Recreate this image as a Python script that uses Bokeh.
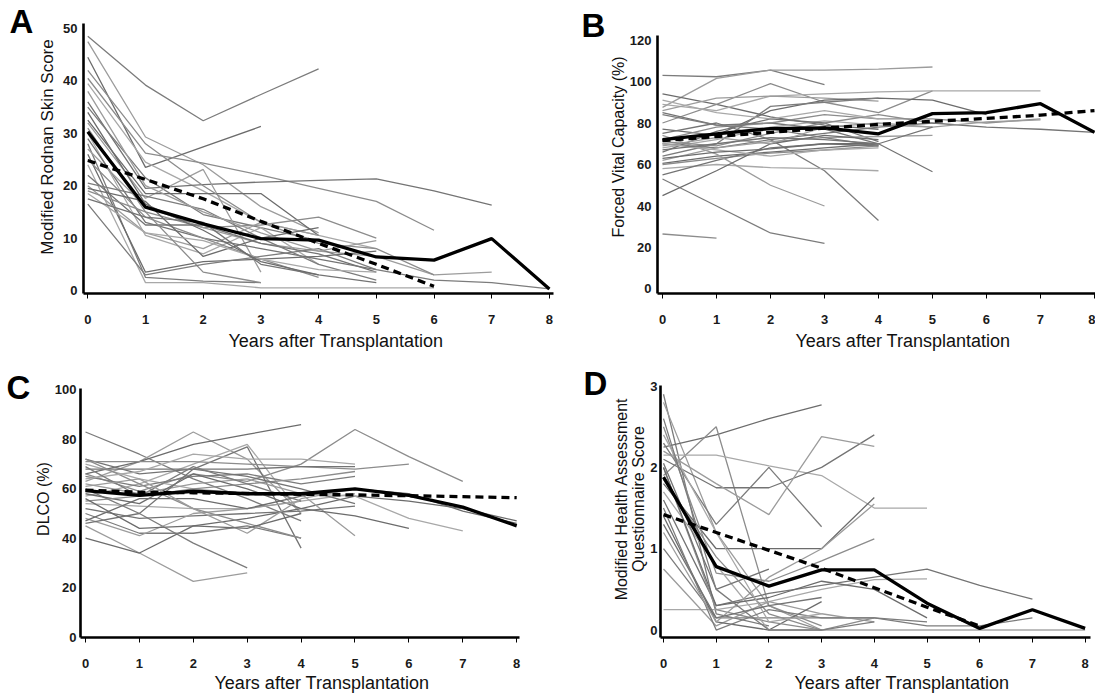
from bokeh.plotting import figure
from bokeh.layouts import column, row
from bokeh.models import FixedTicker, Range1d, Title
from bokeh.core.properties import value
from bokeh.embed import file_html
from bokeh.resources import INLINE

X_TICKS = [0, 1, 2, 3, 4, 5, 6, 7, 8]
X_TITLE = "Years after Transplantation"

# ---------------- Panel A : Modified Rodnan Skin Score ----------------
A_TICKS = [0, 10, 20, 30, 40, 50]
A_TITLE = "Modified Rodnan Skin Score"
A_MEAN = [30.3, 15.9, 12.7, 9.9, 9.6, 6.4, 5.8, 9.9, 0.3]
A_TREND = [24.8, 21.2, 17.5, 13.2, 9.0, 5.0, 0.8]
A_LINES = [
    [48.5, 39.2, 32.4, 37.4, 42.3],
    [47.5, 29.3, 24.0, 16.0, 11.0],
    [44.5, 23.5, 27.4, 31.3],
    [40.5, 26.2, 24.3, 22.0, 19.5, 17.0, 11.5],
    [39.5, 24.5, 19.0, 13.0, 10.5, 8.0],
    [36.0, 19.5, 20.2, 20.7, 21.0, 21.3, 19.0, 16.3],
    [35.0, 21.5, 14.5, 12.0, 9.5],
    [32.0, 17.6, 23.1, 3.5],
    [32.5, 18.5, 18.5, 18.5, 10.5],
    [31.0, 15.0, 12.0, 12.5, 14.0, 10.0],
    [30.0, 10.5, 7.0, 12.0, 5.0],
    [29.0, 13.0, 10.0, 8.0, 6.0, 4.0],
    [28.0, 2.5, 1.8, 1.5],
    [27.0, 16.0, 12.0, 9.0, 7.5, 6.5, 3.0, 3.5],
    [26.0, 3.5, 5.5, 6.0, 6.5, 7.5],
    [25.0, 14.0, 10.0, 6.0, 2.5],
    [24.0, 1.5, 1.5, 0.5, 0.5, 0.5, 0.5],
    [22.0, 12.5, 12.5, 9.0, 7.0, 3.5],
    [20.5, 18.0, 15.5, 10.0, 5.0, 2.0],
    [20.0, 11.0, 8.0, 13.0, 10.5],
    [19.5, 17.0, 6.5, 10.0, 12.0],
    [19.0, 15.0, 3.5, 1.5],
    [18.5, 11.0, 9.5, 6.0, 4.0, 3.5],
    [17.5, 14.0, 13.0, 5.0, 3.0, 1.5],
    [16.5, 3.0, 5.0, 6.5, 8.0, 4.0, 2.0, 1.5, 0.3],
    [38.0, 20.0, 15.0, 11.0, 7.5, 9.5],
    [34.0, 16.5, 11.5, 5.5, 3.0],
    [42.0, 28.0, 20.0, 13.0, 9.0, 8.0, 3.0],
]

# ---------------- Panel B : Forced Vital Capacity ----------------
B_TICKS = [0, 20, 40, 60, 80, 100, 120]
B_TITLE = "Forced Vital Capacity (%)"
B_MEAN = [72.0, 74.8, 77.3, 77.6, 74.8, 84.5, 85.0, 89.3, 75.5]
B_TREND = [71.5, 73.5, 75.5, 77.5, 79.3, 80.8, 82.2, 83.8, 86.0]
B_LINES = [
    [103.0, 102.3, 105.5, 98.5],
    [87.5, 101.5, 105.5, 105.5, 106.0, 107.0],
    [94.0, 89.0, 83.0, 79.0, 77.0],
    [80.0, 89.0, 99.0, 90.0, 85.0, 95.5],
    [89.0, 86.0, 93.0, 94.0, 95.0, 95.5, 95.5, 95.5],
    [85.0, 79.0, 80.0, 77.0, 70.0, 56.5],
    [70.0, 68.0, 72.0, 57.0, 33.0],
    [86.0, 92.0, 93.0, 92.0, 90.5],
    [77.0, 74.0, 86.0, 91.0, 92.0, 91.0, 84.0],
    [72.0, 78.0, 80.0, 84.0, 82.0, 82.0, 80.0, 82.0],
    [68.0, 72.0, 78.0, 81.0, 79.0, 78.0],
    [66.0, 76.0, 82.0, 80.0, 71.0],
    [64.0, 70.0, 88.0, 90.0, 92.0],
    [62.0, 68.0, 71.0, 73.0, 73.5, 74.0],
    [60.5, 64.0, 66.0, 68.0, 70.0],
    [60.0, 63.0, 65.5, 67.0, 69.0],
    [58.0, 60.0, 58.5, 58.0, 57.0],
    [55.0, 62.0, 68.0, 70.0, 69.0],
    [53.0, 40.0, 27.0, 22.0],
    [74.0, 65.0, 50.0, 40.0],
    [45.0, 57.0, 70.0, 74.0, 72.0],
    [26.5, 24.5],
    [70.0, 67.0, 64.0, 67.0, 68.0],
    [75.0, 80.0, 72.0, 75.0, 78.0, 80.0, 78.0, 77.0, 75.5],
    [84.0, 79.0, 77.0, 73.0, 69.0],
    [69.0, 73.0, 70.0, 78.0, 80.0, 78.0, 80.5, 81.5],
    [63.0, 66.0, 67.5, 70.0, 70.0],
    [71.0, 69.0, 75.0, 80.0, 84.0, 80.0],
    [91.0, 85.0, 82.0, 86.0, 82.0],
    [67.0, 70.0, 73.0, 72.0, 70.0, 78.0],
]

# ---------------- Panel C : DLCO ----------------
C_TICKS = [0, 20, 40, 60, 80, 100]
C_TITLE = "DLCO (%)"
C_MEAN = [59.3, 57.3, 59.0, 58.0, 58.0, 60.0, 57.3, 52.6, 45.0]
C_TREND = [59.5, 58.6, 58.4, 58.1, 57.8, 57.5, 57.2, 56.8, 56.4]
C_LINES = [
    [83, 74, 64, 56, 47],
    [63, 71, 83, 72, 50],
    [66, 71, 78, 82, 86],
    [66, 59, 66, 63, 70, 84, 73, 63],
    [57, 62, 70, 78, 50],
    [72, 66, 68, 77, 36],
    [60, 50, 38, 28],
    [45, 34, 22.5, 26],
    [40, 34, 45, 48, 52, 57, 55, 52, 47],
    [71, 71, 71, 70, 69, 68, 70],
    [70, 64, 60, 58, 58, 57, 48, 43],
    [68, 68, 68, 68, 69, 69],
    [65, 61, 65, 66, 62, 65],
    [62, 58, 62, 64, 58, 41],
    [58, 54, 66, 60, 52, 49, 44],
    [55, 57, 60, 62, 64, 67],
    [54, 53, 52, 52, 55, 58],
    [52, 48, 49, 50, 51, 53],
    [50, 42, 42, 45, 40],
    [48, 41, 50, 52, 55],
    [47, 56, 56, 52, 57, 60, 58, 51, 46],
    [72, 62, 52, 46, 40],
    [64, 67, 74, 72, 72, 70],
    [46, 50, 68, 65, 60, 54],
    [69, 57, 69, 62, 55],
    [61, 64, 52, 42, 56, 60, 57],
    [56, 44, 45, 44, 50],
]

# ---------------- Panel D : Modified HAQ ----------------
D_TICKS = [0, 1, 2, 3]
D_TITLE = "Modified Health Assessment\nQuestionnaire Score"
D_MEAN = [1.88, 0.78, 0.54, 0.74, 0.74, 0.33, 0.02, 0.25, 0.02]
D_TREND = [1.42, 1.20, 0.98, 0.76, 0.52, 0.28, 0.05]
D_LINES = [
    [2.9, 0.2, 0.05],
    [2.8, 1.2, 0.3, 0.0],
    [2.25, 2.4, 2.6, 2.77],
    [1.9, 2.5, 0.3, 0.05],
    [2.15, 2.15, 2.02, 1.9, 1.5, 1.5],
    [2.1, 1.75, 1.75, 2.0, 2.4],
    [2.3, 1.3, 2.0, 1.27],
    [2.2, 1.8, 1.42, 2.38, 2.26],
    [1.8, 1.0, 1.0, 1.0, 1.63],
    [2.5, 0.7, 0.6, 0.85, 1.12],
    [0.25, 0.25, 0.35, 0.5, 0.62, 0.63],
    [1.6, 0.3, 0.45, 0.55, 0.65, 0.75, 0.55, 0.38],
    [1.0, 0.15, 0.15, 0.15, 0.15, 0.05, 0.05, 0.15],
    [0.75, 0.05, 0.35, 0.2, 0.1],
    [1.4, 0.1, 0.0, 0.35],
    [2.0, 0.25, 0.1, 0.0, 0.15],
    [1.7, 0.8, 0.0, 0.0, 0.0, 0.0, 0.0, 0.0, 0.0],
    [2.05, 0.5, 0.75],
    [1.5, 0.0, 0.25, 0.15, 0.15, 0.1],
    [1.2, 0.1, 0.65, 1.0, 1.55],
    [2.0, 0.3, 0.4, 0.6, 0.5, 0.15],
    [1.85, 0.9, 0.2, 0.0],
    [2.4, 1.2, 0.1, 0.2],
    [1.3, 0.15, 0.3, 0.4],
    [2.6, 0.5, 0.0, 0.0, 0.1],
]

GRAYS = ["#7c7c7c", "#9c9c9c", "#6c6c6c", "#8c8c8c", "#a8a8a8", "#747474"]
FONT = "Liberation Sans"


def letter_fig(letter, width, height, bottom, lx, ly):
    """Narrow canvas holding the panel letter; its ranges are in pixels."""
    p = figure(width=width, height=height, x_range=Range1d(0, width),
               y_range=Range1d(bottom, height), x_axis_type=None, y_axis_type=None,
               output_backend="svg", toolbar_location=None,
               min_border_left=0, min_border_right=0,
               min_border_top=0, min_border_bottom=bottom)
    p.title.visible = False
    p.title.text_font_size = "1px"
    p.title.standoff = 0
    p.outline_line_color = None
    p.text(x=[lx], y=[ly], text=[letter], text_font=value(FONT),
           text_font_size="33px", text_font_style="bold", text_color="black",
           text_align="left", text_baseline="alphabetic")
    return p


def make_panel(lines, mean, trend, yticks, ytitle, size, borders,
               xr, yr, xbounds, ybounds, ylab_standoff, ytitle_standoff,
               ytitle_size, xtitle_offset, xtitle_standoff):
    w, h = size
    bl, br, bt, bb = borders
    p = figure(width=w, height=h, x_range=Range1d(*xr), y_range=Range1d(*yr),
               output_backend="svg", toolbar_location=None,
               min_border_left=bl, min_border_right=br,
               min_border_top=bt, min_border_bottom=bb)
    p.title.visible = False
    p.title.text_font_size = "1px"
    p.title.standoff = 0
    p.outline_line_color = None
    p.xgrid.visible = False
    p.ygrid.visible = False
    p.background_fill_color = "white"
    p.border_fill_color = "white"

    xs = [list(range(len(v))) for v in lines]
    cols = [GRAYS[i % len(GRAYS)] for i in range(len(lines))]
    p.multi_line(xs, lines, line_color=cols, line_width=1.3)
    p.line(list(range(len(trend))), trend, line_color="black", line_width=3.3,
           line_dash="8 5")
    p.line(list(range(len(mean))), mean, line_color="black", line_width=3.3)

    xa = p.xaxis[0]
    xa.ticker = FixedTicker(ticks=X_TICKS)
    xa.bounds = xbounds
    xa.axis_line_width = 2.6
    xa.axis_line_color = "black"
    xa.major_tick_out = 5
    xa.major_tick_in = 0
    xa.major_tick_line_width = 1
    xa.minor_tick_out = 0
    xa.minor_tick_in = 0
    xa.major_label_text_font = FONT
    xa.major_label_text_font_size = "13px"
    xa.major_label_text_font_style = "bold"
    xa.major_label_text_color = "#1a1a1a"
    xa.major_label_standoff = 16
    xa.axis_label = None
    # x-axis title: a Title in the panel below the axis, placed like the reference
    p.add_layout(Title(text=X_TITLE, align="left", offset=xtitle_offset,
                       standoff=xtitle_standoff, text_font=FONT,
                       text_font_size="18px", text_font_style="normal",
                       text_color="#111111"), "below")

    ya = p.yaxis[0]
    ya.ticker = FixedTicker(ticks=yticks)
    ya.bounds = ybounds
    ya.axis_line_width = 2.6
    ya.axis_line_color = "black"
    ya.major_tick_out = 0
    ya.major_tick_in = 0
    ya.minor_tick_out = 0
    ya.minor_tick_in = 0
    ya.major_label_text_font = FONT
    ya.major_label_text_font_size = "13px"
    ya.major_label_text_font_style = "bold"
    ya.major_label_text_color = "#1a1a1a"
    ya.major_label_standoff = ylab_standoff
    ya.axis_label = ytitle
    ya.axis_label_text_font = FONT
    ya.axis_label_text_font_size = ytitle_size
    ya.axis_label_text_font_style = "normal"
    ya.axis_label_text_color = "#111111"
    ya.axis_label_text_line_height = 1.0
    ya.axis_label_standoff = ytitle_standoff
    return p


# Frames share borders within each row (top 0, bottom equal) and within each
# column (left/right equal); the axis bounds trim the axis lines.
# top row: letter A (0-33) | panel A (33-560) | letter B (560-605) | panel B (605-1095)
lA = letter_fig("A", 33, 360, 67, 9, 339)
pA = make_panel(A_LINES, A_MEAN, A_TREND, A_TICKS, A_TITLE,
                (527, 360), (50, 7, 0, 67),
                (-0.0745, 8.071), (-0.57, 55.34),
                (-0.0745, 8.071), (-0.57, 50.95), 6, 3, "17px", 145, 5)
lB = letter_fig("B", 45, 360, 67, 21, 335)
pB = make_panel(B_LINES, B_MEAN, B_TREND, B_TICKS, B_TITLE,
                (490, 360), (52, 0, 0, 67),
                (-0.0926, 8.019), (-2.17, 139.04),
                (-0.0926, 8.019), (-2.17, 122.2), 6, 0, "16px", 138, 5)

# bottom row: letter C (0-30) | panel C (30-560) | letter D (560-608) | panel D (608-1095)
lC = letter_fig("C", 30, 334, 57, 6, 307)
pC = make_panel(C_LINES, C_MEAN, C_TREND, C_TICKS, C_TITLE,
                (530, 334), (50, 7, 0, 57),
                (-0.0928, 8.683), (-0.2, 111.94),
                (-0.0928, 8.05), (-0.2, 100.6), 4, 0, "16px", 134, 0)
lD = letter_fig("D", 48, 334, 57, 23, 311)
pD = make_panel(D_LINES, D_MEAN, D_TREND, D_TICKS, D_TITLE,
                (487, 334), (52, 0, 0, 57),
                (-0.0569, 8.197), (-0.092, 3.315),
                (-0.057, 8.105), (-0.092, 3.007), 3, 0, "16px", 134, 0)

layout = column(row(lA, pA, lB, pB), row(lC, pC, lD, pD))

with open("out.html", "w") as f:
    f.write(file_html(layout, INLINE))
